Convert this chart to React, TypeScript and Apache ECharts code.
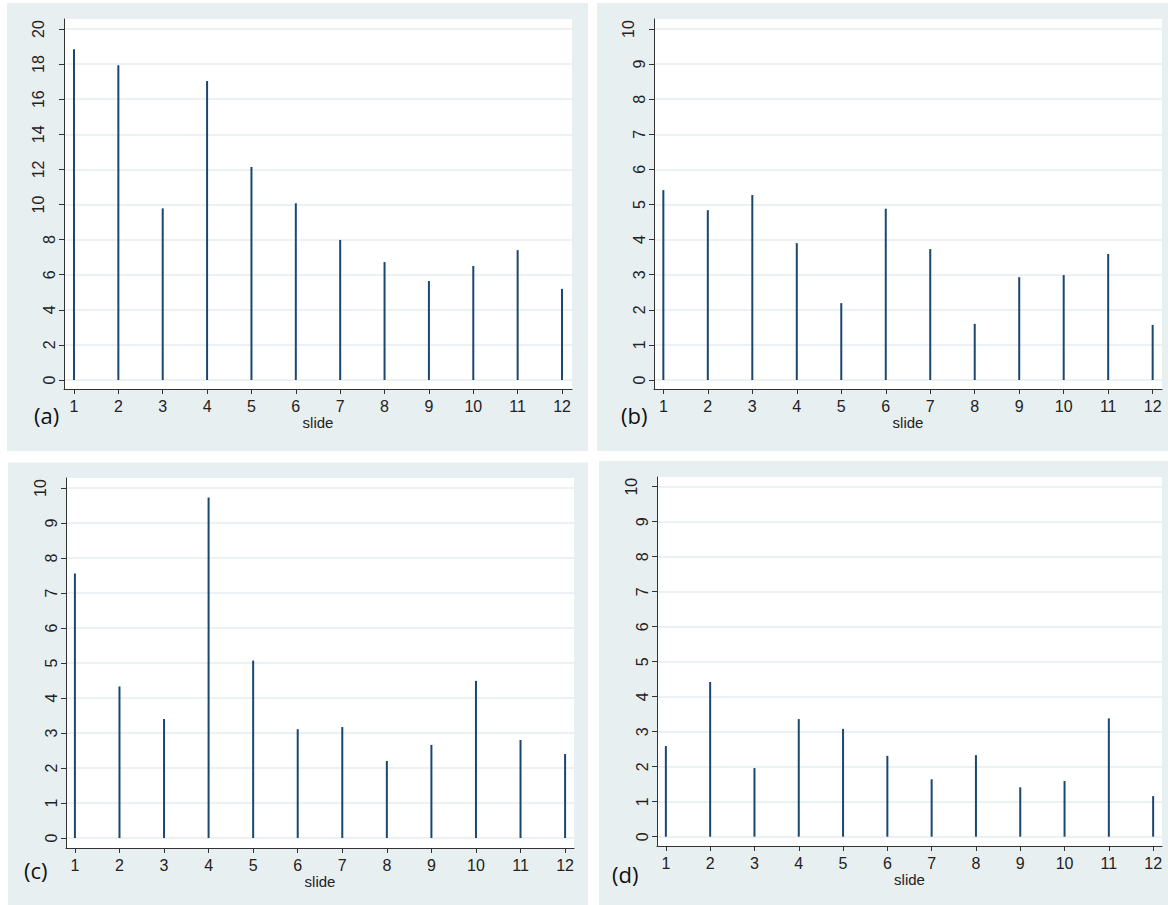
import React, { useEffect, useRef } from "react";
import * as echarts from "echarts";

const slides = [1, 2, 3, 4, 5, 6, 7, 8, 9, 10, 11, 12];
const valuesA = [18.85, 17.93, 9.78, 17.04, 12.14, 10.07, 7.98, 6.72, 5.64, 6.5, 7.4, 5.19];
const valuesB = [5.41, 4.84, 5.27, 3.9, 2.19, 4.88, 3.73, 1.6, 2.93, 2.99, 3.59, 1.57];
const valuesC = [7.56, 4.33, 3.4, 9.73, 5.07, 3.11, 3.17, 2.2, 2.66, 4.49, 2.8, 2.4];
const valuesD = [2.59, 4.42, 1.96, 3.36, 3.08, 2.31, 1.64, 2.33, 1.41, 1.59, 3.38, 1.16];
const ticksA = [0, 2, 4, 6, 8, 10, 12, 14, 16, 18, 20];
const ticks10 = [0, 1, 2, 3, 4, 5, 6, 7, 8, 9, 10];
const panelLabels = ["(a)", "(b)", "(c)", "(d)"];
const xTitle = "slide";

const BG = "#e8eff1";
const GRIDLINE = "#e6eef0";
const SPIKE = "#1a476f";
const AXIS = "#333333";
const TEXT = "#222222";
const FONT = "Liberation Sans";

const panels = [
  { vals: valuesA, ticks: ticksA, left: 64, top: 19, width: 508, height: 370, xMin: 0.775, xMax: 12.225, yMin: -0.513, yMax: 20.57, bg: [7, 3, 581, 448], lab: [34, 404] },
  { vals: valuesB, ticks: ticks10, left: 654, top: 19, width: 508, height: 370, xMin: 0.79, xMax: 12.21, yMin: -0.256, yMax: 10.285, bg: [597, 3, 600, 448], lab: [621, 404] },
  { vals: valuesC, ticks: ticks10, left: 66, top: 478, width: 508, height: 370, xMin: 0.8, xMax: 12.2, yMin: -0.286, yMax: 10.286, bg: [8, 462.5, 580, 460], lab: [24, 859] },
  { vals: valuesD, ticks: ticks10, left: 657, top: 477, width: 505, height: 369, xMin: 0.8, xMax: 12.2, yMin: -0.266, yMax: 10.277, bg: [599, 461, 600, 460], lab: [612, 863] },
];

export default function App() {
  const ref = useRef<HTMLDivElement>(null);
  useEffect(() => {
    const chart = echarts.init(ref.current!, null, { renderer: "svg" });
    const grid = panels.map((p) => ({
      left: p.left,
      top: p.top,
      width: p.width,
      height: p.height,
      show: true,
      backgroundColor: "#ffffff",
      borderWidth: 0,
      containLabel: false,
    }));
    const xAxis = panels.map((p, i) => ({
      type: "value",
      gridIndex: i,
      min: p.xMin,
      max: p.xMax,
      name: xTitle,
      nameLocation: "middle",
      nameGap: 26,
      nameTextStyle: { fontFamily: FONT, fontSize: 15, color: TEXT },
      axisLine: { show: true, onZero: false, lineStyle: { color: AXIS, width: 1 } },
      axisTick: { show: true, length: 5, customValues: slides, lineStyle: { color: AXIS, width: 1 } },
      axisLabel: { customValues: slides, fontFamily: FONT, fontSize: 16, color: TEXT, margin: 9 },
      splitLine: { show: false },
    }));
    const yAxis = panels.map((p, i) => ({
      type: "value",
      gridIndex: i,
      min: p.yMin,
      max: p.yMax,
      axisLine: { show: true, onZero: false, lineStyle: { color: AXIS, width: 1 } },
      axisTick: { show: true, length: 5, customValues: p.ticks, lineStyle: { color: AXIS, width: 1 } },
      axisLabel: {
        customValues: p.ticks,
        rotate: 90,
        margin: 7,
        fontFamily: FONT,
        fontSize: 16,
        color: TEXT,
        formatter: (v: number) => (v >= 10 ? `{w|${v}}` : `${v}`),
        rich: { w: { fontFamily: FONT, fontSize: 16, color: TEXT, padding: [0, 0, 11, 0] } },
      },
      splitLine: { show: true, lineStyle: { color: GRIDLINE, width: 1.5 } },
    }));
    const series = panels.map((p, i) => ({
      type: "bar",
      xAxisIndex: i,
      yAxisIndex: i,
      barWidth: 2,
      silent: true,
      itemStyle: { color: SPIKE },
      data: slides.map((s, j) => [s, p.vals[j]]),
    }));
    const graphic: any[] = [];
    panels.forEach((p, i) => {
      graphic.push({
        type: "rect",
        z: -10,
        shape: { x: p.bg[0], y: p.bg[1], width: p.bg[2], height: p.bg[3] },
        style: { fill: BG },
        silent: true,
      });
      graphic.push({
        type: "text",
        z: 10,
        x: p.lab[0],
        y: p.lab[1],
        style: { text: panelLabels[i], fontFamily: "Open Sans", fontSize: 22, fill: "#111111" },
        silent: true,
      });
    });
    chart.setOption({
      animation: false,
      backgroundColor: "#ffffff",
      grid,
      xAxis,
      yAxis,
      series,
      graphic,
    });
    return () => chart.dispose();
  }, []);
  return <div ref={ref} style={{ position: "absolute", left: 0, top: 0, width: 1168, height: 905 }} />;
}
